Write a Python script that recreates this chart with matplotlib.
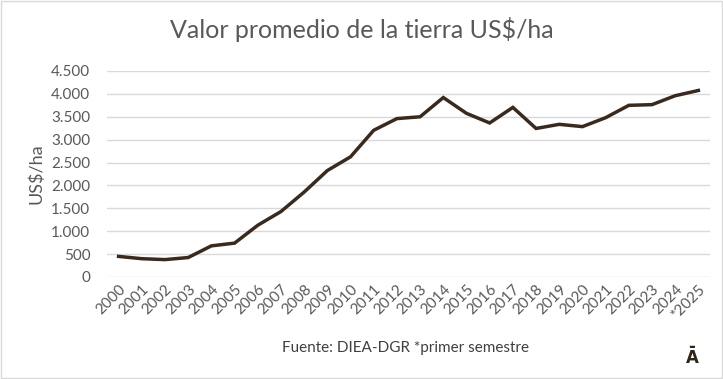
import matplotlib
matplotlib.use("Agg")
import matplotlib.pyplot as plt
from matplotlib.ticker import FuncFormatter

plt.rcParams['font.family'] = ['Lato', 'DejaVu Sans']

years = ['2000', '2001', '2002', '2003', '2004', '2005', '2006', '2007', '2008',
         '2009', '2010', '2011', '2012', '2013', '2014', '2015', '2016', '2017',
         '2018', '2019', '2020', '2021', '2022', '2023', '2024', '*2025']
valor = [450, 400, 380, 425, 680, 740, 1130, 1430, 1855, 2325, 2625, 3205,
         3460, 3500, 3920, 3575, 3365, 3705, 3245, 3335, 3285, 3480, 3750,
         3765, 3960, 4075]

gray = '#595959'

fig = plt.figure(figsize=(7.23, 3.79), dpi=100)
ax = fig.add_axes([107/723, 1 - 277/379, 603/723, 206/379])

x = range(len(years))
ax.plot(x, valor, color='#3a2a1d', lw=2.5, solid_joinstyle='miter')

ax.set_xlim(-0.5, len(years) - 0.5)
ax.set_ylim(0, 4500)
ax.set_yticks(range(0, 4501, 500))
ax.yaxis.set_major_formatter(FuncFormatter(lambda v, p: f'{int(v):,}'.replace(',', '.')))
ax.set_xticks(list(x))
ax.set_xticklabels(years, rotation=45, ha='right', rotation_mode='anchor')
ax.tick_params(axis='both', length=0, colors=gray, labelsize=11)
ax.tick_params(axis='y', pad=12)
ax.tick_params(axis='x', pad=4)
ax.grid(axis='y', color='#d9d9d9', lw=1)
ax.set_axisbelow(True)
for s in ax.spines.values():
    s.set_visible(False)

ax.set_ylabel('US$/ha', color=gray, fontsize=13, labelpad=5)

fig.text(0.5, 1 - 30/379, 'Valor promedio de la tierra US$/ha', ha='center', va='center',
         color=gray, fontsize=18)
fig.text(406/723, 1 - 348/379, 'Fuente: DIEA-DGR *primer semestre', ha='center', va='center',
         color='#404040', fontsize=11)
fig.text(692/723, 1 - 358/379, '\u0100', ha='center', va='center', color='#2e2418',
         fontsize=12, fontweight='bold', family=['DejaVu Sans'])

fig.patches.append(plt.Rectangle((0.001, 0.002), 0.997, 0.996, transform=fig.transFigure,
                                 fill=False, edgecolor='#d9d9d9', lw=1))

fig.savefig('out.png', dpi=100)
